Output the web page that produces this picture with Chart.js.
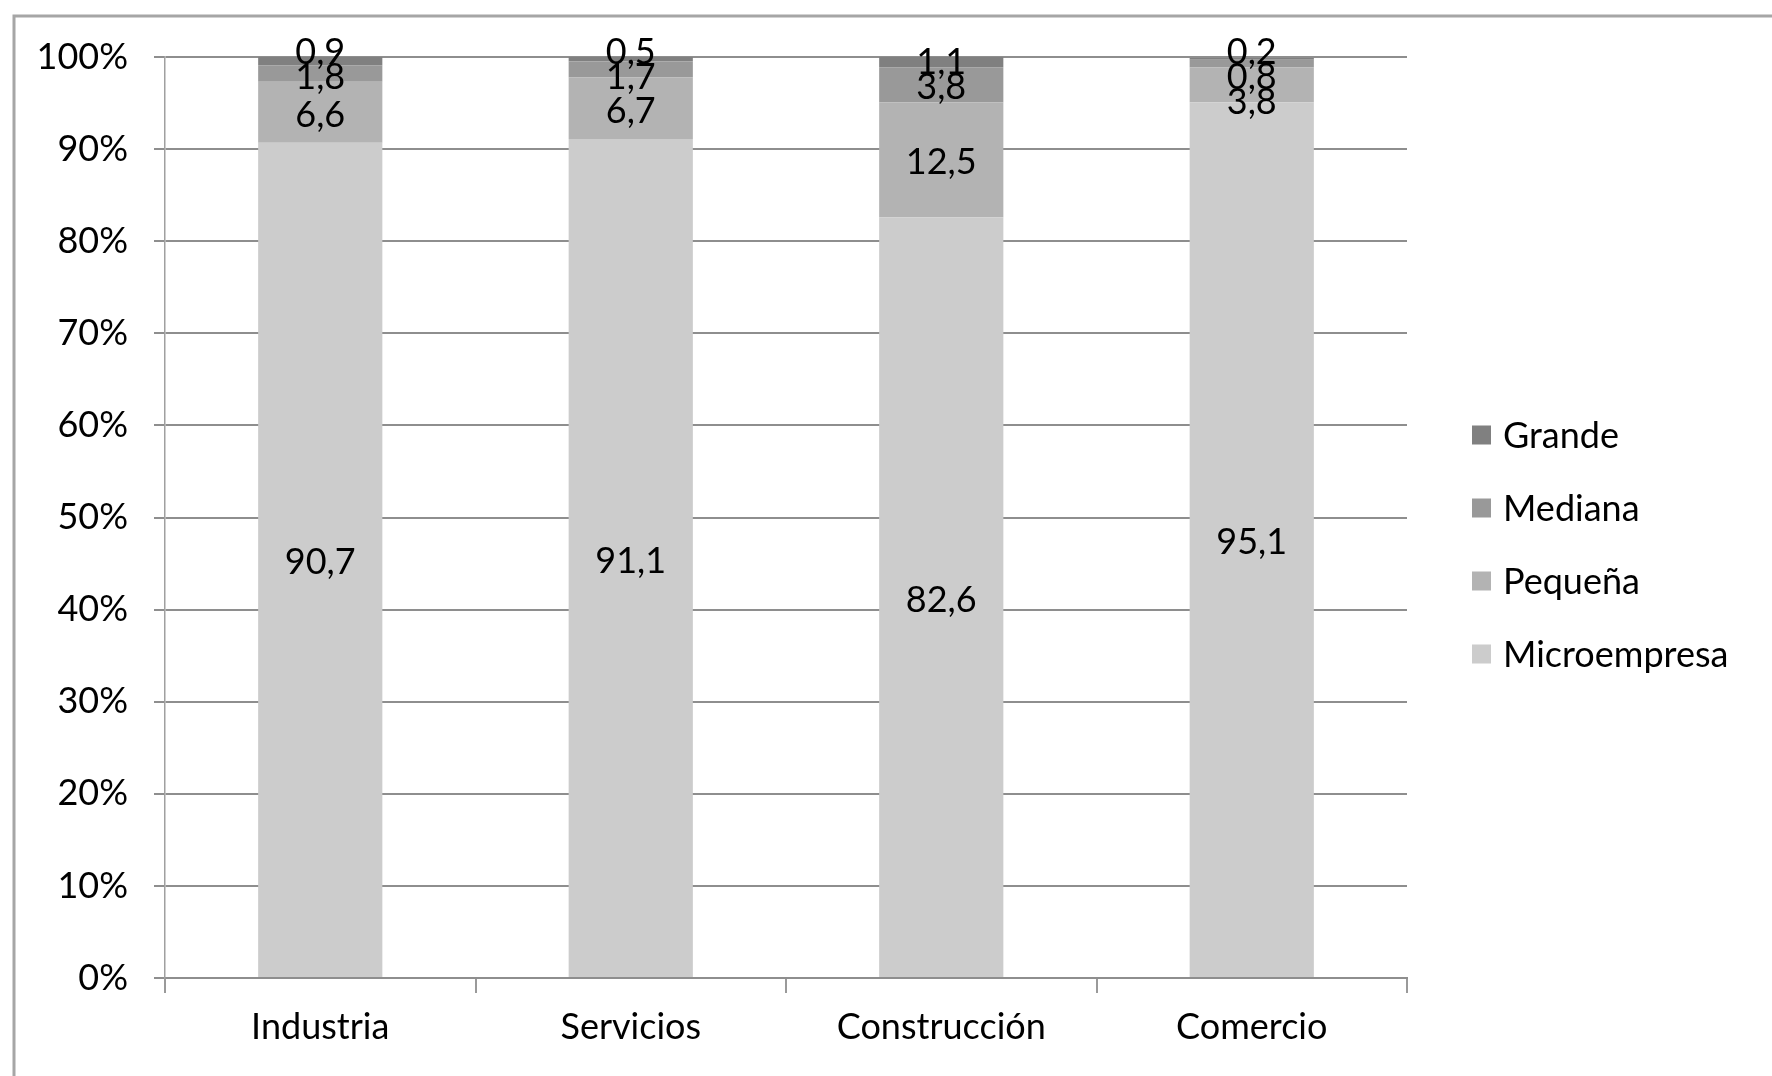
<!DOCTYPE html>
<html lang="es">
<head>
<meta charset="UTF-8">
<title>Empresas por tamaño y sector</title>
<script src="https://cdn.jsdelivr.net/npm/chart.js"></script>
<style>
  html, body { margin: 0; padding: 0; background: #fff; }
  #wrap { width: 1772px; height: 1076px; position: relative; }
</style>
</head>
<body>
<div id="wrap"><canvas id="chart"></canvas></div>
<script>
const sectores = ['Industria', 'Servicios', 'Construcción', 'Comercio'];
const microempresa = [90.7, 91.1, 82.6, 95.1];
const pequena = [6.6, 6.7, 12.5, 3.8];
const mediana = [1.8, 1.7, 3.8, 0.8];
const grande = [0.9, 0.5, 1.1, 0.2];
const ticksY = [0, 10, 20, 30, 40, 50, 60, 70, 80, 90, 100];

const fuente = 'Lato, "Noto Sans", sans-serif';
Chart.defaults.font.family = fuente;
Chart.defaults.font.size = 36;
Chart.defaults.color = '#000';

// marco gris arriba y a la izquierda
const marco = {
  id: 'marco',
  beforeDraw(chart) {
    const ctx = chart.ctx;
    ctx.save();
    ctx.fillStyle = '#fff';
    ctx.fillRect(0, 0, chart.width, chart.height);
    ctx.strokeStyle = '#a6a6a6';
    ctx.lineWidth = 3;
    ctx.strokeRect(14, 16, chart.width + 20, chart.height + 20);
    ctx.restore();
  }
};

// etiquetas de valor centradas en cada segmento, separadas si se tocan
const etiquetas = {
  id: 'etiquetas',
  afterDatasetsDraw(chart) {
    const ctx = chart.ctx;
    const gap = 25, techo = chart.chartArea.top - 8, bajar = 3;
    ctx.save();
    ctx.font = '36px ' + fuente;
    ctx.fillStyle = '#000';
    ctx.textAlign = 'center';
    ctx.textBaseline = 'middle';
    sectores.forEach((_, i) => {
      const items = chart.data.datasets.map((ds, d) => {
        const bar = chart.getDatasetMeta(d).data[i];
        const p = bar.getProps(['x', 'y', 'base'], true);
        return { x: p.x, y: (p.y + p.base) / 2, texto: ds.data[i].toFixed(1).replace('.', ',') };
      });
      for (let k = 1; k < items.length; k++) {
        if (items[k].y > items[k - 1].y - gap) items[k].y = items[k - 1].y - gap;
      }
      const last = items.length - 1;
      if (items[last].y < techo) {
        items[last].y = techo;
        for (let k = last - 1; k >= 0; k--) {
          if (items[k].y < items[k + 1].y + gap) items[k].y = items[k + 1].y + gap;
        }
      }
      items.forEach(it => ctx.fillText(it.texto, it.x, it.y + bajar));
    });
    ctx.restore();
  }
};

// leyenda a la derecha, Grande arriba
const leyenda = {
  id: 'leyenda',
  afterDraw(chart) {
    const { ctx, chartArea } = chart;
    const x0 = chartArea.right + 65, y0 = chartArea.top + 378, paso = 73, lado = 19;
    ctx.save();
    ctx.font = '36px ' + fuente;
    ctx.textBaseline = 'middle';
    ctx.textAlign = 'left';
    chart.data.datasets.slice().reverse().forEach((ds, k) => {
      const y = y0 + k * paso;
      ctx.fillStyle = ds.backgroundColor;
      ctx.fillRect(x0, y - lado / 2, lado, lado);
      ctx.fillStyle = '#000';
      ctx.fillText(ds.label, x0 + 31, y + 1);
    });
    ctx.restore();
  }
};

new Chart(document.getElementById('chart'), {
  type: 'bar',
  data: {
    labels: sectores,
    datasets: [
      { label: 'Microempresa', data: microempresa, backgroundColor: '#cccccc' },
      { label: 'Pequeña', data: pequena, backgroundColor: '#b3b3b3' },
      { label: 'Mediana', data: mediana, backgroundColor: '#999999' },
      { label: 'Grande', data: grande, backgroundColor: '#808080' }
    ]
  },
  options: {
    responsive: true,
    maintainAspectRatio: false,
    devicePixelRatio: 1,
    animation: false,
    categoryPercentage: 1,
    barPercentage: 0.4,
    layout: { padding: { left: 0, top: 57, right: 365, bottom: 0 } },
    plugins: {
      legend: { display: false },
      tooltip: { enabled: false }
    },
    scales: {
      x: {
        stacked: true,
        grid: { display: true, drawOnChartArea: false, drawTicks: true, tickLength: 15, color: '#9a9a9a', lineWidth: 2, offset: true },
        border: { display: true, color: '#8e8e8e', width: 2 },
        ticks: { padding: 13, color: '#000' },
        afterFit(s) { s.height = 98; }
      },
      y: {
        stacked: true,
        min: 0,
        max: 100,
        grid: { color: '#8e8e8e', lineWidth: 2, tickLength: 11 },
        border: { color: '#a0a0a0', width: 1.5 },
        ticks: { padding: 26, color: '#000', callback: v => v + '%' },
        afterBuildTicks(s) { s.ticks = ticksY.map(v => ({ value: v })); },
        afterFit(s) { s.width = 165; }
      }
    }
  },
  plugins: [marco, etiquetas, leyenda]
});
</script>
</body>
</html>
